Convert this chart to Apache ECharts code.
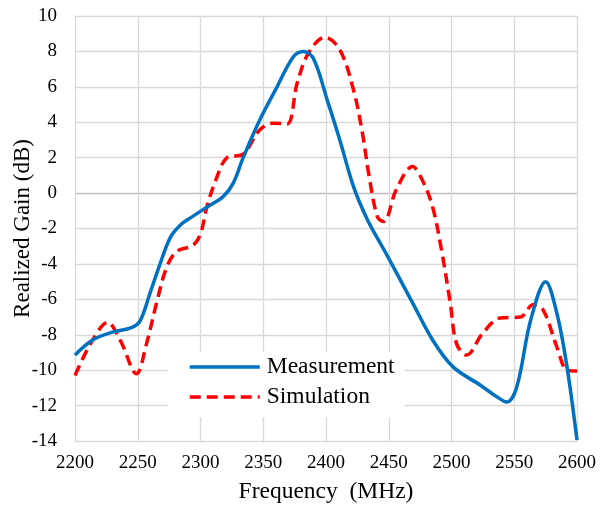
<!DOCTYPE html>
<html>
<head>
<meta charset="utf-8">
<script src="https://cdn.jsdelivr.net/npm/echarts@6/dist/echarts.min.js"></script>
<style>html,body{margin:0;padding:0;background:#fff}#c{width:600px;height:506px}</style>
</head>
<body>
<div id="c"></div>
<script>
var freqM = [2200,2214,2230,2245,2252,2260,2268,2276,2284,2292,2305,2318,2326,2334,2347,2361,2374,2382,2390,2401,2411,2422,2433,2447,2469,2485,2501,2523,2536,2544,2552,2563,2575,2584,2592,2600];
var gainM = [-9.15,-8.3,-7.85,-7.6,-7.2,-5.6,-3.95,-2.5,-1.8,-1.4,-0.8,-0.2,0.55,2.0,4.1,6.0,7.7,8.0,7.6,5.25,3.0,0.35,-1.5,-3.3,-6.2,-8.3,-9.8,-10.85,-11.5,-11.8,-10.95,-7.2,-5.0,-6.8,-9.8,-13.95];
var freqS = [2200,2214,2226,2236,2249,2257,2265,2273,2281,2294,2300,2305,2312,2321,2334,2347,2358,2369,2377,2386,2399,2411,2422,2429,2434,2441,2446,2456,2469,2477,2485,2492,2499,2504,2512,2525,2539,2555,2565,2573,2584,2592,2600];
var gainS = [-10.3,-8.3,-7.3,-8.3,-10.2,-8.5,-6.2,-4.2,-3.3,-2.95,-2.3,-0.8,0.7,2.0,2.2,3.55,3.95,3.9,6.2,7.9,8.8,8.1,5.8,3.4,1.1,-1.35,-1.6,0.2,1.5,0.7,-0.8,-3.2,-6.2,-8.5,-9.15,-7.9,-7.05,-7.0,-6.3,-6.6,-8.7,-10.0,-10.05];
var seriesNames = ['Measurement','Simulation'];
var xTitle = 'Frequency  (MHz)';
var yTitle = 'Realized Gain (dB)';

function pairs(xs, ys){ return xs.map(function(x,i){ return [x, ys[i]]; }); }

var font = 'Liberation Serif';
var gridColors = [];
for (var v = -14; v <= 10; v += 2) gridColors.push(v === 0 ? '#bfbfbf' : '#d9d9d9');

var chart = echarts.init(document.getElementById('c'), null, {renderer:'canvas'});
chart.setOption({
  animation: false,
  backgroundColor: '#fff',
  textStyle: {fontFamily: font},
  grid: {left: 75, right: 23, top: 16, bottom: 65, containLabel: false, outerBoundsMode: 'none'},
  xAxis: {
    type: 'value', min: 2200, max: 2600, interval: 50,
    name: xTitle, nameLocation: 'middle', nameGap: 39, nameMoveOverlap: false,
    nameTextStyle: {fontFamily: font, fontSize: 23.5, color: '#000'},
    axisLine: {show: false}, axisTick: {show: false},
    axisLabel: {fontFamily: font, fontSize: 19, color: '#000', margin: 13,
      formatter: function(v){ return String(v); }},
    splitLine: {show: true, lineStyle: {color: '#d9d9d9', width: 1.3}}
  },
  yAxis: {
    type: 'value', min: -14, max: 10, interval: 2,
    name: yTitle, nameLocation: 'middle', nameGap: 41, nameMoveOverlap: false,
    nameTextStyle: {fontFamily: font, fontSize: 23, color: '#000'},
    axisLine: {show: false}, axisTick: {show: false},
    axisLabel: {fontFamily: font, fontSize: 19, color: '#000', margin: 18},
    splitLine: {show: true, lineStyle: {color: gridColors, width: 1.3}}
  },
  legend: {
    left: 168, top: 352, orient: 'vertical',
    backgroundColor: '#fff',
    padding: [3, 10, 8, 20],
    itemWidth: 70, itemHeight: 14, itemGap: 6,
    itemStyle: {opacity: 0},
    lineStyle: {width: 3.5},
    textStyle: {fontFamily: font, fontSize: 23.5, color: '#000', padding: [0,0,0,2]},
    data: seriesNames
  },
  series: [
    {
      name: seriesNames[0], type: 'line', smooth: 0.35, symbol: 'none',
      data: pairs(freqM, gainM),
      lineStyle: {color: '#0070C0', width: 3.5},
      itemStyle: {color: '#0070C0'}, z: 3
    },
    {
      name: seriesNames[1], type: 'line', smooth: 0.35, symbol: 'none',
      data: pairs(freqS, gainS),
      lineStyle: {color: '#FF0000', width: 3.5, type: [11, 6]},
      itemStyle: {color: '#FF0000'}, z: 2
    }
  ]
});
</script>
</body>
</html>
